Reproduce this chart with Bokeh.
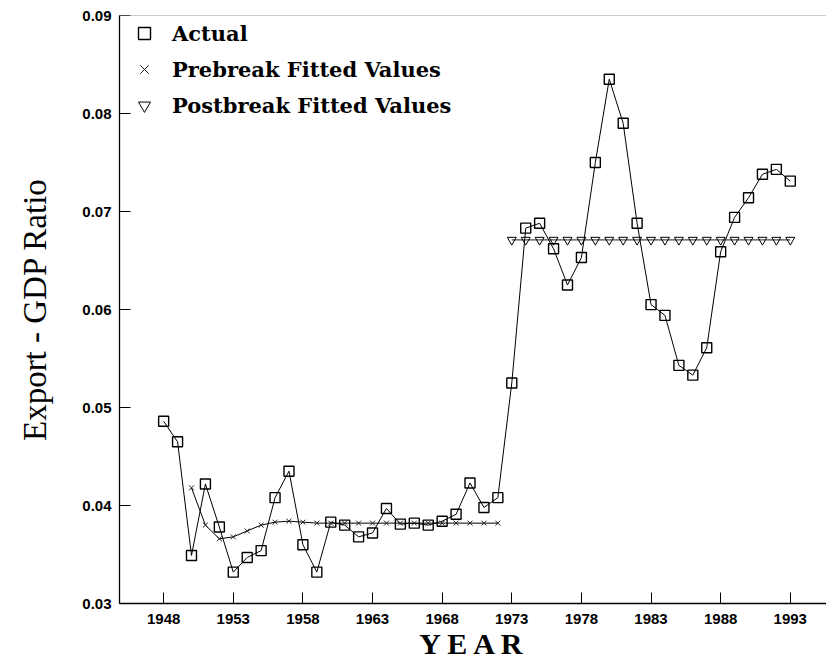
from bokeh.plotting import figure
from bokeh.models import FixedTicker, PrintfTickFormatter, Span, Legend, LegendItem, Range1d
from bokeh.embed import file_html
from bokeh.resources import INLINE

years = [1948, 1949, 1950, 1951, 1952, 1953, 1954, 1955, 1956, 1957,
         1958, 1959, 1960, 1961, 1962, 1963, 1964, 1965, 1966, 1967,
         1968, 1969, 1970, 1971, 1972, 1973, 1974, 1975, 1976, 1977,
         1978, 1979, 1980, 1981, 1982, 1983, 1984, 1985, 1986, 1987,
         1988, 1989, 1990, 1991, 1992, 1993]
actual = [0.0486, 0.0465, 0.0349, 0.0422, 0.0378, 0.0332, 0.0347, 0.0354, 0.0408, 0.0435,
          0.0360, 0.0332, 0.0383, 0.0380, 0.0368, 0.0372, 0.0397, 0.0381, 0.0382, 0.0380,
          0.0384, 0.0391, 0.0423, 0.0398, 0.0408, 0.0525, 0.0683, 0.0688, 0.0662, 0.0625,
          0.0653, 0.0750, 0.0835, 0.0790, 0.0688, 0.0605, 0.0594, 0.0543, 0.0533, 0.0561,
          0.0659, 0.0694, 0.0714, 0.0738, 0.0743, 0.0731]

pre_years = [1950, 1951, 1952, 1953, 1954, 1955, 1956, 1957, 1958, 1959, 1960, 1961,
             1962, 1963, 1964, 1965, 1966, 1967, 1968, 1969, 1970, 1971, 1972]
prebreak = [0.0418, 0.0380, 0.0366, 0.0368, 0.0374, 0.0380, 0.0383, 0.0384, 0.0383, 0.0382,
            0.0382, 0.0382, 0.0382, 0.0382, 0.0382, 0.0382, 0.0382, 0.0382, 0.0382, 0.0382,
            0.0382, 0.0382, 0.0382]

post_years = [1973, 1974, 1975, 1976, 1977, 1978, 1979, 1980, 1981, 1982, 1983,
              1984, 1985, 1986, 1987, 1988, 1989, 1990, 1991, 1992, 1993]
postbreak = [0.0671] * 21

x_ticks = [1948, 1953, 1958, 1963, 1968, 1973, 1978, 1983, 1988, 1993]
y_ticks = [0.03, 0.04, 0.05, 0.06, 0.07, 0.08, 0.09]

p = figure(width=826, height=666, output_backend="svg", toolbar_location=None,
           x_range=Range1d(1944.83, 1995.6), y_range=Range1d(0.03, 0.09),
           min_border_left=119, min_border_right=0, min_border_top=15, min_border_bottom=63)
p.outline_line_color = None
p.grid.visible = False
p.background_fill_color = "white"

# top rule
p.add_layout(Span(location=0.09, dimension="width", line_color="#999999", line_width=1))

# Actual
p.line(years, actual, line_color="black", line_width=1)
r_act = p.scatter(years, actual, marker="square", size=10, fill_alpha=0,
                  line_color="black", line_width=1.4)
# Prebreak
p.line(pre_years, prebreak, line_color="black", line_width=1)
r_pre = p.scatter(pre_years, prebreak, marker="x", size=7, line_color="#222222", line_width=1)
# Postbreak
p.line(post_years, postbreak, line_color="black", line_width=0.9)
r_post = p.scatter(post_years, postbreak, marker="inverted_triangle", size=9, fill_alpha=0,
                   line_color="black", line_width=1)

legend = Legend(items=[LegendItem(label="Actual", renderers=[r_act]),
                       LegendItem(label="Prebreak Fitted Values", renderers=[r_pre]),
                       LegendItem(label="Postbreak Fitted Values", renderers=[r_post])],
                location="top_left", margin=0, padding=3, glyph_width=44, glyph_height=30,
                spacing=6, label_standoff=6, border_line_alpha=0, background_fill_alpha=0,
                label_text_font="DejaVu Serif", label_text_font_style="bold",
                label_text_font_size="21px", label_text_color="black")
p.add_layout(legend)

# axes
p.xaxis.ticker = FixedTicker(ticks=x_ticks)
p.yaxis.ticker = FixedTicker(ticks=y_ticks)
p.yaxis.formatter = PrintfTickFormatter(format="%.2f")
for ax in (p.xaxis, p.yaxis):
    ax.major_tick_in = 11
    ax.major_tick_out = 0
    ax.minor_tick_line_color = None
    ax.major_tick_line_color = "black"
    ax.axis_line_color = "black"
    ax.axis_line_width = 1.3
    ax.major_label_text_font = "Liberation Sans"
    ax.major_label_text_font_style = "bold"
    ax.major_label_text_font_size = "15px"
    ax.major_label_text_color = "black"
    ax.axis_label_text_color = "black"
    ax.axis_label_text_font = "Liberation Serif"
p.xaxis.major_label_standoff = 10
p.yaxis.major_label_standoff = 8

p.xaxis.axis_label = "Y E A R"
p.xaxis.axis_label_text_font_size = "30px"
p.xaxis.axis_label_text_font_style = "bold"
p.xaxis.axis_label_standoff = 0
p.yaxis.axis_label = "Export - GDP Ratio"
p.yaxis.axis_label_text_font_size = "33px"
p.yaxis.axis_label_text_font_style = "normal"
p.yaxis.axis_label_standoff = 26

open("out.html", "w").write(file_html(p, INLINE))
